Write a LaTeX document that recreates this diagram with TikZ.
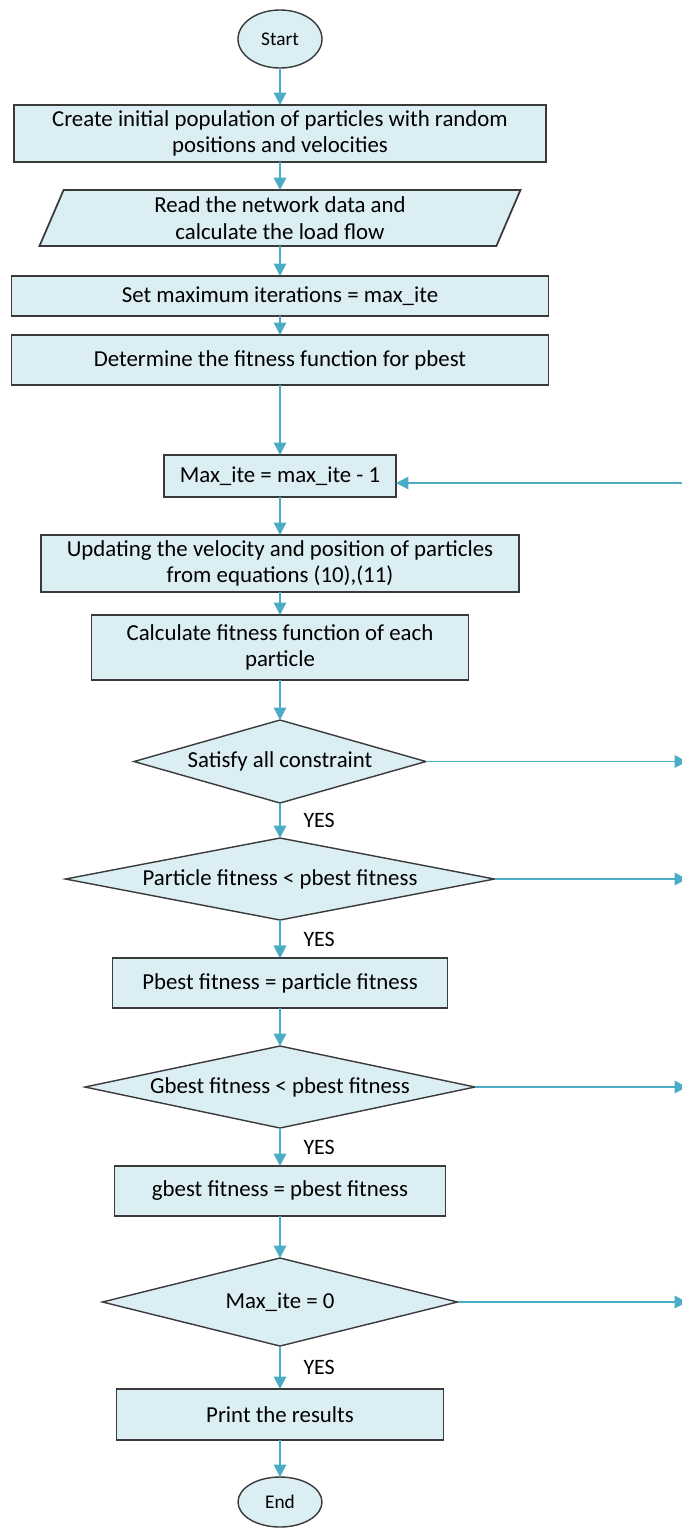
\documentclass[tikz,border=0pt]{standalone}
\usepackage{fontspec}
\setmainfont{Carlito}
\usepackage[HTML]{xcolor}
\usetikzlibrary{positioning, arrows.meta, shapes.geometric}
\definecolor{boxfill}{HTML}{DBEEF4}
\definecolor{flowline}{HTML}{4BACC6}
\definecolor{edgeline}{HTML}{3A3A3A}

\begin{document}
\begin{tikzpicture}[
    node distance=0.6cm, % default gap, overridden below
    every node/.style={inner sep=2pt, outer sep=0pt, font=\fontsize{13}{15}\selectfont},
    terminal/.style={ellipse, draw=edgeline, fill=boxfill, line width=0.8pt,
        minimum width=1.68cm, minimum height=1.16cm, font=\fontsize{11}{13}\selectfont},
    process/.style={rectangle, draw=edgeline, fill=boxfill, line width=1pt, align=center},
    io/.style={trapezium, trapezium left angle=64, trapezium right angle=116,
        trapezium stretches body, draw=edgeline, fill=boxfill, line width=1pt, align=center},
    decision/.style={diamond, draw=edgeline, fill=boxfill, line width=0.8pt,
        inner sep=0pt, align=center},
    flow/.style={-{Triangle[length=7pt, width=7pt]}, draw=flowline, line width=1pt},
    yes/.style={midway, right=0.4cm, font=\fontsize{12.5}{14}\selectfont}
]
    % fix the page size
    \useasboundingbox (0,0) rectangle (13.62,-30.56);

    % 1. Nodes of the main column
    \node[terminal] (start) at (5.6,-0.78) {Start};
    \node[process, below=0.74cm of start, minimum width=10.64cm, minimum height=1.14cm] (init)
        {Create initial population of particles with random\\positions and velocities};
    \node[io, below=0.56cm of init, minimum width=9.62cm, minimum height=1.12cm] (read)
        {Read the network data and\\calculate the load flow};
    \node[process, below=0.6cm of read, minimum width=10.74cm, minimum height=0.8cm] (maxset)
        {Set maximum iterations = max\_ite};
    \node[process, below=0.38cm of maxset, minimum width=10.74cm, minimum height=1cm] (pbestfit)
        {Determine the fitness function for pbest};
    \node[process, below=1.4cm of pbestfit, minimum width=4.64cm, minimum height=0.84cm] (count)
        {Max\_ite = max\_ite - 1};
    \node[process, below=0.76cm of count, minimum width=9.56cm, minimum height=1.14cm] (update)
        {Updating the velocity and position of particles\\from equations (10),(11)};
    \node[process, below=0.46cm of update, minimum width=7.54cm, minimum height=1.3cm] (fitness)
        {Calculate fitness function of each\\particle};
    \node[decision, aspect=3.5, below=0.8cm of fitness, minimum width=5.84cm, minimum height=1.66cm] (constr)
        {Satisfy all constraint};
    \node[decision, aspect=5.2, below=0.7cm of constr, minimum width=8.58cm, minimum height=1.64cm] (pcheck)
        {Particle fitness < pbest fitness};
    \node[process, below=0.76cm of pcheck, minimum width=6.7cm, minimum height=1cm] (pupdate)
        {Pbest fitness = particle fitness};
    \node[decision, aspect=4.75, below=0.76cm of pupdate, minimum width=7.8cm, minimum height=1.64cm] (gcheck)
        {Gbest fitness < pbest fitness};
    \node[process, below=0.76cm of gcheck, minimum width=6.62cm, minimum height=1cm] (gupdate)
        {gbest fitness = pbest fitness};
    \node[decision, aspect=4, below=0.84cm of gupdate, minimum width=7.1cm, minimum height=1.76cm] (stop)
        {Max\_ite = 0};
    \node[process, below=0.86cm of stop, minimum width=6.54cm, minimum height=1.02cm] (result)
        {Print the results};
    \node[terminal, below=0.74cm of result, minimum height=1cm] (end) {End};

    % right border, where the side lines leave the picture
    \coordinate (rim) at (13.74,0);

    % 2. Arrows down the column
    \foreach \a/\b in {start/init, init/read, read/maxset, maxset/pbestfit, pbestfit/count,
        count/update, update/fitness, fitness/constr, pcheck/pupdate, pupdate/gcheck,
        gupdate/stop, result/end}
        \draw[flow] (\a.south) -- (\b.north);

    % YES branches
    \draw[flow] (constr.south) -- (pcheck.north) node[yes] {YES};
    \draw[flow] (pcheck.south) -- (pupdate.north) node[yes] {YES};
    \draw[flow] (gcheck.south) -- (gupdate.north) node[yes] {YES};
    \draw[flow] (stop.south) -- (result.north) node[yes] {YES};

    % NO branches leave to the right
    \foreach \d in {constr, pcheck, gcheck, stop}
        \draw[flow] (\d.east) -- (\d.east -| rim);

    % loop back into the counter
    \draw[flow] ([yshift=-0.14cm]count.east -| rim) -- ([yshift=-0.14cm]count.east);
\end{tikzpicture}
\end{document}
